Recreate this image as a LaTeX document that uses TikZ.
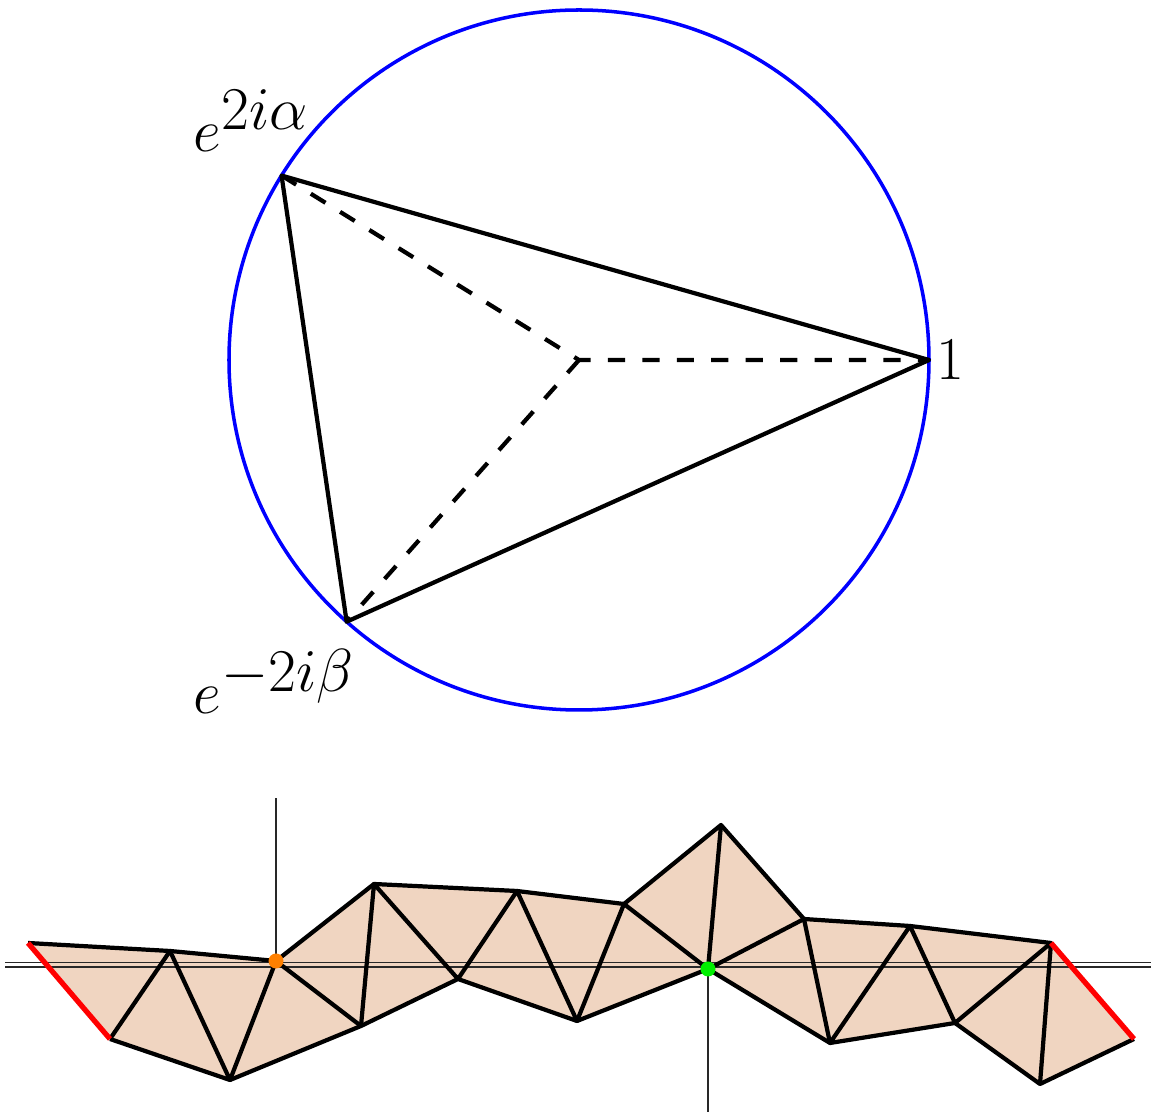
\documentclass[tikz,border=0pt]{standalone}
\usepackage{amsmath,amssymb}
\usepackage{tikz}
\usepackage{xcolor}
\usetikzlibrary{arrows.meta,positioning,calc}
\definecolor{StripFill}{RGB}{240,213,193}
\definecolor{CircleBlue}{RGB}{0,0,255}
\definecolor{EndRed}{RGB}{255,0,0}
\definecolor{DotOrange}{RGB}{255,128,0}
\definecolor{DotGreen}{RGB}{0,240,0}
\definecolor{AxisGray}{RGB}{40,40,40}
\tikzset{
  edge/.style={line width=1.2pt, line join=round},
  radius line/.style={line width=1.2pt, dash pattern=on 4.9pt off 4.9pt},
  end edge/.style={line width=1.5pt, EndRed},
  axis line/.style={line width=0.45pt, AxisGray},
  pt label/.style={font=\LARGE, inner sep=0pt}
}
\begin{document}
\begin{tikzpicture}
        \useasboundingbox (0,0) rectangle (11.51,11.14);
        \coordinate (O) at (5.79,7.54);
        \coordinate (One) at (9.29,7.54);
        \coordinate (Alpha) at ($(O)+(148.2:3.5)$);
        \coordinate (Beta) at ($(O)+(-131.6:3.5)$);
        \draw[line width=1pt, CircleBlue] (O) circle (3.5);
        \draw[radius line] (Alpha)--(O)--(One);
        \draw[radius line] (O)--(Beta);
        \draw[edge] (One)--(Alpha)--(Beta)--cycle;
        \node[pt label, anchor=west] (lone) at ([xshift=2pt]One) {$1$};
        \node[pt label, anchor=base west] (lalpha) at (1.93,9.62) {$e^{\textstyle 2i\alpha}$};
        \node[pt label, anchor=base west] (lbeta) at (1.93,4.00) {$e^{\textstyle -2i\beta}$};
        \coordinate (T0) at (0.28,1.71);
        \coordinate (T1) at (1.70,1.63);
        \coordinate (T2) at (2.76,1.53);
        \coordinate (T3) at (3.74,2.30);
        \coordinate (T4) at (5.17,2.23);
        \coordinate (T5) at (6.24,2.10);
        \coordinate (T6) at (7.21,2.89);
        \coordinate (T7) at (8.04,1.95);
        \coordinate (T8) at (9.10,1.88);
        \coordinate (T9) at (10.51,1.71);
        \coordinate (B0) at (1.10,0.75);
        \coordinate (B1) at (2.30,0.34);
        \coordinate (B2) at (3.61,0.88);
        \coordinate (B3) at (4.58,1.35);
        \coordinate (B4) at (5.77,0.93);
        \coordinate (B5) at (7.08,1.45);
        \coordinate (B6) at (8.30,0.71);
        \coordinate (B7) at (9.55,0.91);
        \coordinate (B8) at (10.40,0.30);
        \coordinate (B9) at (11.34,0.75);
        \fill[StripFill] (T0)--(T1)--(T2)--(T3)--(T4)--(T5)--(T6)--(T7)--(T8)--(T9)--(B9)--(B8)--(B7)--(B6)--(B5)--(B4)--(B3)--(B2)--(B1)--(B0)--cycle;
        \draw[axis line] (0.05,1.515)--(11.51,1.515);
        \draw[axis line] (0.05,1.47)--(11.51,1.47);
        \draw[axis line] (T2)--++(0,1.63);
        \draw[axis line] (B5)--++(0,-1.43);
        \draw[edge] (T0)--(T1)--(T2)--(T3)--(T4)--(T5)--(T6)--(T7)--(T8)--(T9);
        \draw[edge] (B0)--(B1)--(B2)--(B3)--(B4)--(B5)--(B6)--(B7)--(B8)--(B9);
        \draw[edge] (B0)--(T1)--(B1)--(T2)--(B2)--(T3)--(B3)--(T4)--(B4)--(T5)--(B5)--(T6);
        \draw[edge] (B5)--(T7)--(B6)--(T8)--(B7)--(T9)--(B8);
        \draw[end edge] (T0)--(B0);
        \draw[end edge] (T9)--(B9);
        \fill[DotOrange] (T2) circle (0.075);
        \fill[DotGreen] (B5) circle (0.075);
      \end{tikzpicture}
\end{document}
